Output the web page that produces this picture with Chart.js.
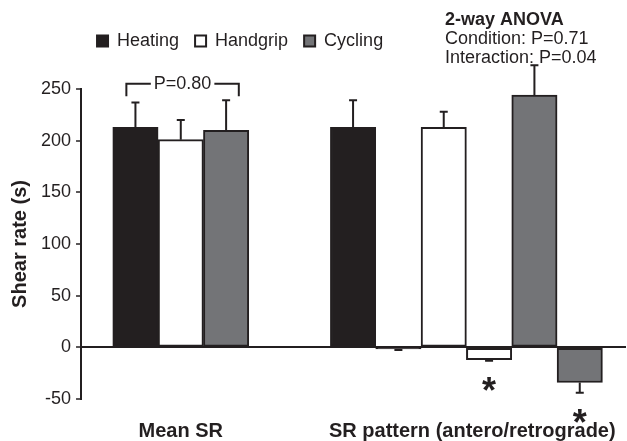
<!DOCTYPE html>
<html>
<head>
<meta charset="utf-8">
<script src="https://cdn.jsdelivr.net/npm/chart.js@4"></script>
<style>
  html, body { margin: 0; padding: 0; background: #fff; }
  #wrap { width: 627px; height: 441px; }
</style>
</head>
<body>
<div id="wrap"><canvas id="shearRate"></canvas></div>
<script>
const conditions = ['Heating', 'Handgrip', 'Cycling'];
const groupLabels = ['Mean SR', 'SR pattern (antero/retrograde)'];
const meanSR = [213, 201, 210];
const meanSRErr = [24, 19, 29];
const anteroSR = [213, 213, 244];
const anteroSRErr = [26, 15, 29];
const retroSR = [-1.5, -12, -34];
const retroSRErr = [1, 1, 10];
const retroStar = [false, true, true];
const yTicks = [-50, 0, 50, 100, 150, 200, 250];

const ink = '#231f20';
const fills = [ink, '#ffffff', '#737477'];
const family = '"Liberation Sans", Arial, sans-serif';

// bar slots on x: mean group at 0..2, pattern group after a gap
const patternStart = 4.8;
const groupCenters = [1, 7.43];

const errorBars = {
  id: 'errorBars',
  afterDatasetsDraw(chart) {
    const { ctx, scales: { y } } = chart;
    ctx.save();
    ctx.strokeStyle = ink;
    ctx.lineWidth = 2;
    chart.data.datasets.forEach((ds, di) => {
      chart.getDatasetMeta(di).data.forEach((bar, i) => {
        const v = ds.data[i].y;
        const yEnd = y.getPixelForValue(v + Math.sign(v) * ds.errors[i]);
        ctx.beginPath();
        ctx.moveTo(bar.x, bar.y);
        ctx.lineTo(bar.x, yEnd);
        ctx.moveTo(bar.x - 4, yEnd);
        ctx.lineTo(bar.x + 4, yEnd);
        ctx.stroke();
        // significance star under the retrograde bars
        if (i === 2 && retroStar[di]) {
          ctx.fillStyle = ink;
          ctx.font = 'bold 36px ' + family;
          ctx.textAlign = 'center';
          ctx.textBaseline = 'alphabetic';
          ctx.fillText('*', bar.x, yEnd + 21 + 21);
        }
      });
    });
    ctx.restore();
  }
};

const notes = {
  id: 'notes',
  afterDraw(chart) {
    const { ctx, scales: { x, y } } = chart;
    ctx.save();
    ctx.fillStyle = ink;
    ctx.strokeStyle = ink;
    ctx.lineWidth = 2;
    ctx.textBaseline = 'middle';

    // bracket over the mean SR group
    const x0 = x.getPixelForValue(-0.2);
    const x1 = x.getPixelForValue(2.28);
    const yTop = y.getPixelForValue(255);
    const yLeg = y.getPixelForValue(243);
    const mid = (x0 + x1) / 2;
    ctx.font = '18px ' + family;
    const label = 'P=0.80';
    const w = ctx.measureText(label).width;
    ctx.beginPath();
    ctx.moveTo(x0, yLeg);
    ctx.lineTo(x0, yTop);
    ctx.lineTo(mid - w / 2 - 3, yTop);
    ctx.moveTo(mid + w / 2 + 3, yTop);
    ctx.lineTo(x1, yTop);
    ctx.lineTo(x1, yLeg);
    ctx.stroke();
    ctx.textAlign = 'center';
    ctx.fillText(label, mid, yTop);

    // anova summary
    ctx.textAlign = 'left';
    ctx.font = 'bold 18px ' + family;
    ctx.fillText('2-way ANOVA', 445, 20);
    ctx.font = '18px ' + family;
    ctx.fillText('Condition: P=0.71', 445, 39);
    ctx.fillText('Interaction: P=0.04', 445, 58);
    ctx.restore();
  }
};

const legendGap = {
  id: 'legendGap',
  beforeInit(chart) {
    const fit = chart.legend.fit;
    chart.legend.fit = function () {
      fit.bind(chart.legend)();
      this.height += 29;
    };
  }
};

new Chart(document.getElementById('shearRate').getContext('2d'), {
  type: 'bar',
  data: {
    datasets: conditions.map((name, i) => ({
      label: name,
      data: [
        { x: i, y: meanSR[i] },
        { x: patternStart + 2 * i, y: anteroSR[i] },
        { x: patternStart + 2 * i + 1, y: retroSR[i] }
      ],
      errors: [meanSRErr[i], anteroSRErr[i], retroSRErr[i]],
      backgroundColor: fills[i],
      borderColor: ink,
      borderWidth: 2,
      borderSkipped: false,
      grouped: false,
      barPercentage: 1,
      categoryPercentage: 1
    }))
  },
  options: {
    responsive: true,
    maintainAspectRatio: false,
    animation: false,
    events: [],
    layout: { padding: { left: 8, right: 1, top: 16, bottom: 0 } },
    plugins: {
      tooltip: { enabled: false },
      legend: {
        position: 'top',
        align: 'start',
        fullSize: false,
        labels: {
          color: ink,
          boxWidth: 11,
          boxHeight: 11,
          padding: 16,
          font: { family, size: 18 }
        }
      }
    },
    scales: {
      x: {
        type: 'linear',
        offset: false,
        min: -1.2,
        max: 10.82,
        afterBuildTicks: axis => { axis.ticks = groupCenters.map(value => ({ value })); },
        afterFit: axis => {
          axis.height = 42;
          axis.paddingLeft = 0;
          axis.paddingRight = 0;
        },
        ticks: {
          autoSkip: false,
          maxRotation: 0,
          padding: 20,
          color: ink,
          font: { family, size: 20, weight: 'bold' },
          callback: (v, i) => groupLabels[i]
        },
        grid: { display: false, drawTicks: false },
        border: { display: false }
      },
      y: {
        min: -50,
        max: 250,
        afterBuildTicks: axis => { axis.ticks = yTicks.map(value => ({ value })); },
        ticks: { color: ink, padding: 5, font: { family, size: 18 } },
        grid: {
          color: c => (c.tick && c.tick.value === 0 ? ink : 'transparent'),
          lineWidth: 2,
          tickColor: ink,
          tickLength: 5,
          tickWidth: 1.5
        },
        border: { display: true, color: ink, width: 2 },
        title: {
          display: true,
          text: 'Shear rate (s)',
          color: ink,
          padding: { top: 0, bottom: 4 },
          font: { family, size: 20, weight: 'bold' }
        }
      }
    }
  },
  plugins: [errorBars, notes, legendGap]
});
</script>
</body>
</html>
